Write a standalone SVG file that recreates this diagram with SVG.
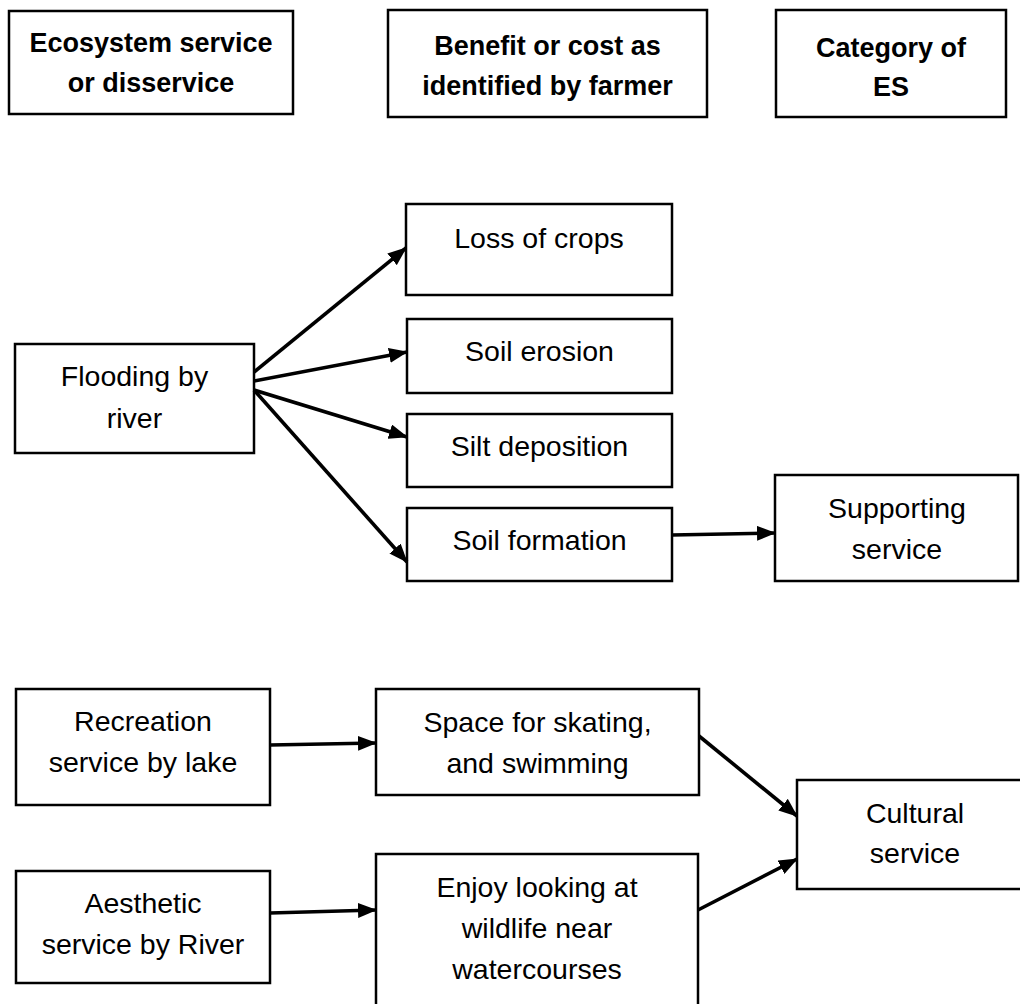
<svg xmlns="http://www.w3.org/2000/svg" width="1020" height="1004" viewBox="0 0 1020 1004">
<style>
  .box { fill: #ffffff; stroke: #000000; stroke-width: 2.5; }
  .hd { font-family: "Liberation Sans", Arial, sans-serif; font-weight: bold; font-size: 27px; fill: #000; text-anchor: middle; }
  .tx { font-family: "Liberation Sans", Arial, sans-serif; font-size: 28.5px; fill: #000; text-anchor: middle; }
  .ar { stroke: #000; stroke-width: 3.6; fill: none; marker-end: url(#ah); }
</style>
<defs>
  <marker id="ah" markerUnits="userSpaceOnUse" markerWidth="19" markerHeight="15" refX="18" refY="7.5" orient="auto">
    <path d="M0,0 L19,7.5 L0,15 z" fill="#000"/>
  </marker>
</defs>
<rect width="1020" height="1004" fill="#ffffff"/>

<g id="h1"><rect class="box" x="9" y="11" width="284" height="103"/>
  <text class="hd" x="151" y="52">Ecosystem service</text>
  <text class="hd" x="151" y="92">or disservice</text></g>
<g id="h2"><rect class="box" x="388" y="10" width="319" height="107"/>
  <text class="hd" x="547.5" y="55">Benefit or cost as</text>
  <text class="hd" x="547.5" y="95">identified by farmer</text></g>
<g id="h3"><rect class="box" x="776" y="10" width="230" height="107"/>
  <text class="hd" x="891" y="57">Category of</text>
  <text class="hd" x="891" y="96">ES</text></g>

<g id="flooding"><rect class="box" x="15" y="344" width="239" height="109"/>
  <text class="tx" x="134.5" y="386">Flooding by</text>
  <text class="tx" x="134.5" y="428">river</text></g>
<g id="loss"><rect class="box" x="406" y="204" width="266" height="91"/>
  <text class="tx" x="539" y="248">Loss of crops</text></g>
<g id="erosion"><rect class="box" x="407" y="319" width="265" height="74"/>
  <text class="tx" x="539.5" y="361">Soil erosion</text></g>
<g id="silt"><rect class="box" x="407" y="414" width="265" height="73"/>
  <text class="tx" x="539.5" y="456">Silt deposition</text></g>
<g id="formation"><rect class="box" x="407" y="508" width="265" height="73"/>
  <text class="tx" x="539.5" y="550">Soil formation</text></g>
<g id="supporting"><rect class="box" x="775" y="475" width="243" height="106"/>
  <text class="tx" x="897" y="518">Supporting</text>
  <text class="tx" x="897" y="559">service</text></g>

<g id="recreation"><rect class="box" x="16" y="689" width="254" height="116"/>
  <text class="tx" x="143" y="731">Recreation</text>
  <text class="tx" x="143" y="772">service by lake</text></g>
<g id="space"><rect class="box" x="376" y="689" width="323" height="106"/>
  <text class="tx" x="537.5" y="732">Space for skating,</text>
  <text class="tx" x="537.5" y="773">and swimming</text></g>
<g id="aesthetic"><rect class="box" x="16" y="871" width="254" height="112"/>
  <text class="tx" x="143" y="913">Aesthetic</text>
  <text class="tx" x="143" y="954">service by River</text></g>
<g id="enjoy"><rect class="box" x="376" y="854" width="322" height="170"/>
  <text class="tx" x="537" y="897">Enjoy looking at</text>
  <text class="tx" x="537" y="938">wildlife near</text>
  <text class="tx" x="537" y="979">watercourses</text></g>
<g id="cultural"><rect class="box" x="797" y="780" width="236" height="109"/>
  <text class="tx" x="915" y="823">Cultural</text>
  <text class="tx" x="915" y="863">service</text></g>

<g id="connectors">
  <line class="ar" x1="254" y1="372" x2="406" y2="248"/>
  <line class="ar" x1="254" y1="381" x2="407" y2="352"/>
  <line class="ar" x1="254" y1="390" x2="407" y2="437"/>
  <line class="ar" x1="254" y1="390" x2="407" y2="562"/>
  <line class="ar" x1="672" y1="535" x2="775" y2="533"/>
  <line class="ar" x1="270" y1="745" x2="376" y2="743"/>
  <line class="ar" x1="270" y1="913" x2="376" y2="910"/>
  <line class="ar" x1="699" y1="736" x2="797" y2="816"/>
  <line class="ar" x1="698" y1="910" x2="797" y2="859"/>
</g>
</svg>
